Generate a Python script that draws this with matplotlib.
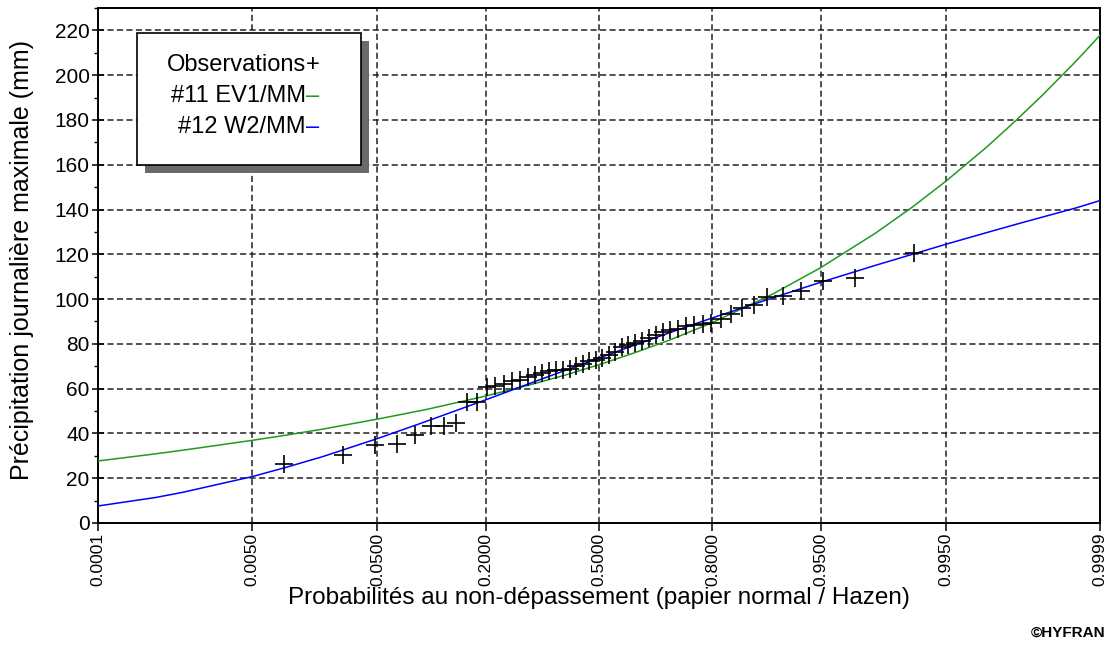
import matplotlib
matplotlib.use("Agg")
import matplotlib.pyplot as plt
from matplotlib.patches import Rectangle
from matplotlib.ticker import FixedLocator, MultipleLocator
from statistics import NormalDist
import numpy as np

plt.rcParams['font.family'] = ['Liberation Sans', 'DejaVu Sans']

# Annual maximum daily precipitation, sorted ascending (mm)
precip_mm = [26.5, 30.5, 35.0, 35.5, 39.5, 43.5, 43.5, 44.5, 54.0, 54.0,
             60.8, 61.3, 62.3, 63.2, 63.8, 65.0, 66.0, 67.0, 67.7, 68.2,
             68.4, 69.0, 69.9, 71.0, 72.2, 73.0, 73.6, 75.0, 76.5, 78.8,
             79.3, 80.3, 81.1, 82.5, 84.1, 85.2, 86.0, 86.5, 87.8, 88.5,
             88.8, 89.5, 91.0, 93.5, 96.0, 97.5, 101.0, 101.5, 103.5, 108.0,
             109.5, 120.5]

# Fitted quantile curves
curve_prob = [0.0001, 0.0005, 0.001, 0.005, 0.01, 0.02, 0.05, 0.1, 0.2, 0.3,
              0.4, 0.5, 0.6, 0.7, 0.8, 0.9, 0.95, 0.98, 0.99, 0.995,
              0.998, 0.999, 0.9995, 0.9998, 0.9999]
ev1_mm = [27.7, 30.9, 32.5, 36.9, 39.2, 41.9, 46.4, 50.7, 56.7, 61.5,
          66.0, 70.7, 75.8, 81.7, 89.5, 102.0, 114.0, 129.5, 141.1, 152.7,
          167.9, 179.5, 191.0, 206.2, 217.8]
w2_mm = [7.6, 11.4, 13.7, 20.7, 24.8, 29.6, 37.7, 45.4, 55.0, 62.1,
         68.1, 73.7, 79.2, 85.0, 91.6, 100.4, 107.5, 115.1, 120.0, 124.5,
         129.7, 133.3, 136.6, 140.7, 144.0]

prob_ticks = [0.0001, 0.005, 0.05, 0.2, 0.5, 0.8, 0.95, 0.995, 0.9999]
prob_labels = ["0.0001", "0.0050", "0.0500", "0.2000", "0.5000",
               "0.8000", "0.9500", "0.9950", "0.9999"]

legend_labels = ["Observations", "#11 EV1/MM", "#12 W2/MM"]
legend_marks = ["+", "\u2013", "\u2013"]
legend_colors = ["black", "#1f9a1f", "#0000ff"]

_norm = NormalDist()


def to_u(p):
    """Probability -> standard normal variate (normal probability paper)."""
    return np.array([_norm.inv_cdf(v) for v in p])


n = len(precip_mm)
hazen_prob = [(i - 0.5) / n for i in range(1, n + 1)]

W, H, dpi = 1110, 646, 100
x0, x1, y0, y1 = 98, 1100, 8, 523  # plot frame in pixels
fig = plt.figure(figsize=(W / dpi, H / dpi), dpi=dpi)
ax = fig.add_axes([x0 / W, 1 - y1 / H, (x1 - x0) / W, (y1 - y0) / H])

ax.plot(to_u(curve_prob), ev1_mm, color=legend_colors[1], linewidth=1.1, zorder=3)
ax.plot(to_u(curve_prob), w2_mm, color=legend_colors[2], linewidth=1.1, zorder=3)
ax.plot(to_u(hazen_prob), precip_mm, linestyle="none", marker="+",
        markersize=13, markeredgewidth=1.2, color="black", zorder=4)

ax.set_xlim(to_u([prob_ticks[0]])[0], to_u([prob_ticks[-1]])[0])
ax.set_ylim(0, 230)
ax.xaxis.set_major_locator(FixedLocator(to_u(prob_ticks)))
ax.set_xticklabels(prob_labels, rotation=90)
ax.yaxis.set_major_locator(FixedLocator(np.arange(0, 221, 20)))
ax.yaxis.set_minor_locator(MultipleLocator(10))

ax.grid(True, which="major", color="#222222", linestyle=(0, (4, 2.2)), linewidth=1.1)
ax.tick_params(axis="y", which="major", direction="inout", length=8, width=1.1,
               labelsize=15, pad=2)
ax.tick_params(axis="y", which="minor", direction="out", length=3, width=1.0)
ax.tick_params(axis="x", which="major", direction="out", length=6, width=1.1,
               labelsize=12.5, pad=1)
for side in ax.spines.values():
    side.set_linewidth(1.4)

ax.set_xlabel("Probabilités au non-dépassement (papier normal / Hazen)",
              fontsize=17.5, va="center")
ax.xaxis.set_label_coords(0.5, (y1 - 598) / (y1 - y0))
ax.set_ylabel("Précipitation journalière maximale (mm)", fontsize=18, va="center")
ax.yaxis.set_label_coords((22 - x0) / (x1 - x0), (y1 - 260) / (y1 - y0))

# Boxed legend with a drop shadow
bx0, by0, bx1, by1 = 137, 33, 361, 165
fig.patches.append(Rectangle(((bx0 + 8) / W, 1 - (by1 + 8) / H),
                             (bx1 - bx0) / W, (by1 - by0) / H,
                             transform=fig.transFigure, facecolor="#6a6a6a",
                             edgecolor="none", zorder=5))
fig.patches.append(Rectangle((bx0 / W, 1 - by1 / H), (bx1 - bx0) / W,
                             (by1 - by0) / H, transform=fig.transFigure,
                             facecolor="white", edgecolor="black",
                             linewidth=1.2, zorder=6))
for k, (lab, mk, col) in enumerate(zip(legend_labels, legend_marks, legend_colors)):
    ty = 1 - (65 + 31 * k) / H
    fig.text(306 / W, ty, lab, ha="right", va="center", fontsize=17, zorder=7)
    fig.text(306 / W, ty, mk, ha="left", va="center", fontsize=17,
             color=col, zorder=7)

fig.text(1105 / W, 1 - 633 / H, "©HYFRAN", ha="right", va="center",
         fontsize=11, fontweight="bold")

fig.savefig("out.png", dpi=dpi)
